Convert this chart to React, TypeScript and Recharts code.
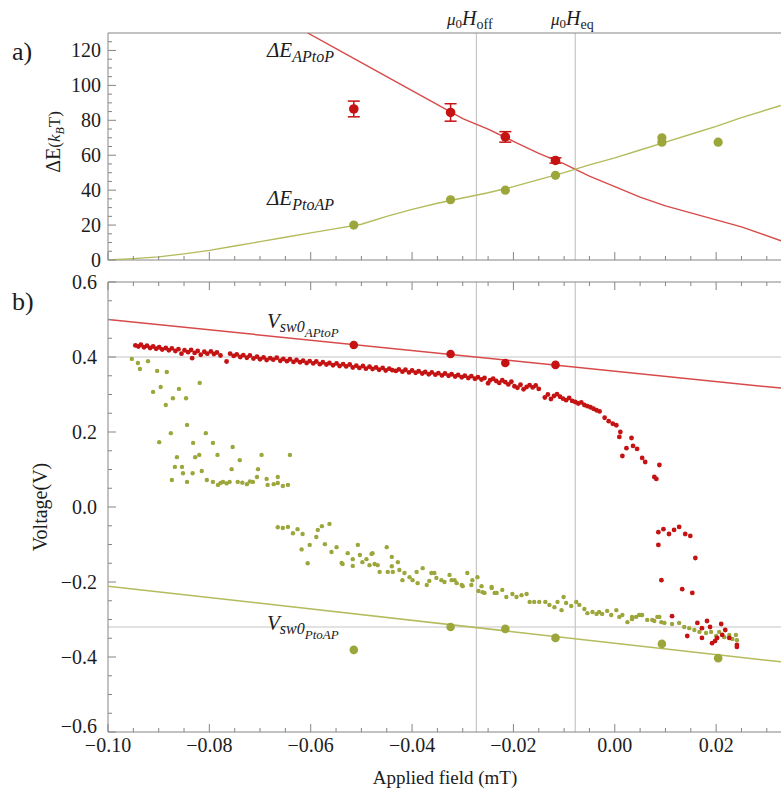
import { ComposedChart, Scatter, XAxis, YAxis, ReferenceLine, ErrorBar } from 'recharts';

const SERIF = "'Liberation Serif', 'DejaVu Serif', serif";
const FRAME = '#858585';
const GRID = '#c6c6c6';
const TEXT = '#1c1c1c';
const RED_DOT = '#c51212';
const RED_LINE = '#d84a4a';
const GREEN_DOT = '#9ca63b';
const GREEN_LINE = '#b3bb5c';

const FIELD_DOMAIN: [number, number] = [-0.1, 0.0328];
const H_OFF = -0.0273;
const H_EQ = -0.0078;

// tick positions (major ones get labels)
const fieldTicks = [
  -0.1, -0.095, -0.09, -0.085, -0.08, -0.075, -0.07, -0.065, -0.06, -0.055, -0.05, -0.045,
  -0.04, -0.035, -0.03, -0.025, -0.02, -0.015, -0.01, -0.005, 0, 0.005, 0.01, 0.015, 0.02, 0.025, 0.03,
];
const fieldMajor = [-0.1, -0.08, -0.06, -0.04, -0.02, 0, 0.02];
const energyTicks = [0, 5, 10, 15, 20, 25, 30, 35, 40, 45, 50, 55, 60, 65, 70, 75, 80, 85, 90, 95, 100, 105, 110, 115, 120, 125];
const energyMajor = [0, 20, 40, 60, 80, 100, 120];
const voltTicks = [
  -0.6, -0.55, -0.5, -0.45, -0.4, -0.35, -0.3, -0.25, -0.2, -0.15, -0.1, -0.05, 0,
  0.05, 0.1, 0.15, 0.2, 0.25, 0.3, 0.35, 0.4, 0.45, 0.5, 0.55, 0.6,
];
const voltMajor = [-0.6, -0.4, -0.2, 0, 0.2, 0.4, 0.6];

// panel a) measured barriers
const barrierField = [-0.0515, -0.0324, -0.0216, -0.0117];
const apToPEnergy = [86.5, 84.5, 70.5, 57];
const apToPErr = [4.5, 5, 3, 1.5];
const ptoApField = [-0.0515, -0.0324, -0.0216, -0.0117, 0.0093, 0.0093, 0.0204];
const ptoApEnergy = [20, 34.5, 40, 48.5, 70, 67.5, 67.5];

// panel a) model curves
const apToPCurveField = [-0.0606, -0.055, -0.05, -0.045, -0.04, -0.035, -0.03, -0.025, -0.02, -0.015, -0.01, -0.005, 0, 0.005, 0.01, 0.015, 0.02, 0.025, 0.0328];
const apToPCurveEnergy = [130, 121, 113, 105, 97, 89, 81, 75, 68, 61, 55, 48, 42, 36, 31, 27, 23, 19, 11];
const ptoApCurveField = [-0.1, -0.095, -0.09, -0.085, -0.08, -0.075, -0.07, -0.065, -0.06, -0.055, -0.05, -0.045, -0.04, -0.035, -0.03, -0.025, -0.02, -0.015, -0.01, -0.005, 0, 0.005, 0.01, 0.015, 0.02, 0.025, 0.0328];
const ptoApCurveEnergy = [0, 0.8, 1.8, 3.5, 5.5, 8, 10.5, 13, 15.5, 18, 20.5, 25, 29, 32.5, 35.5, 38.5, 42, 46, 50, 54.5, 58.5, 63, 67.5, 72, 76.5, 81.5, 88.5];

// panel b) Vsw0 lines and points
const vLineField = [-0.1, 0.0328];
const vApToPLine = [0.5, 0.317];
const vPtoApLine = [-0.211, -0.413];
const vApToPField = [-0.0515, -0.0324, -0.0216, -0.0117];
const vApToP = [0.432, 0.408, 0.384, 0.379];
const vPtoApField = [-0.0515, -0.0324, -0.0216, -0.0117, 0.0093, 0.0204];
const vPtoAp = [-0.381, -0.32, -0.325, -0.349, -0.365, -0.403];

// panel b) measured switching voltages, AP -> P sweep
const apToPSweep: [number, number][] = [
  [-0.0946, 0.431], [-0.094, 0.428], [-0.0935, 0.433], [-0.0929, 0.426], [-0.0923, 0.43], [-0.0917, 0.424],
  [-0.0911, 0.428], [-0.0905, 0.422], [-0.0899, 0.426], [-0.0893, 0.42], [-0.0886, 0.424], [-0.088, 0.418],
  [-0.0874, 0.423], [-0.0867, 0.416], [-0.0861, 0.421], [-0.0855, 0.409], [-0.0849, 0.418], [-0.0842, 0.413],
  [-0.0836, 0.419], [-0.0834, 0.397], [-0.0829, 0.411], [-0.0823, 0.416], [-0.0817, 0.406], [-0.081, 0.414],
  [-0.0804, 0.409], [-0.0797, 0.415], [-0.0791, 0.408], [-0.0785, 0.412], [-0.0778, 0.404], [-0.0766, 0.388],
  [-0.0759, 0.409], [-0.0752, 0.403], [-0.0746, 0.407], [-0.0739, 0.4], [-0.0733, 0.405], [-0.0726, 0.398],
  [-0.072, 0.404], [-0.0713, 0.396], [-0.0706, 0.401], [-0.07, 0.394], [-0.0693, 0.399], [-0.0687, 0.392],
  [-0.068, 0.397], [-0.0674, 0.393], [-0.0667, 0.398], [-0.066, 0.39], [-0.0654, 0.395], [-0.0647, 0.389],
  [-0.0641, 0.394], [-0.0634, 0.387], [-0.0628, 0.392], [-0.0621, 0.386], [-0.0615, 0.39], [-0.0608, 0.384],
  [-0.0602, 0.389], [-0.0595, 0.383], [-0.0589, 0.388], [-0.0582, 0.381], [-0.0576, 0.386], [-0.0569, 0.38],
  [-0.0563, 0.384], [-0.0556, 0.378], [-0.0549, 0.383], [-0.0543, 0.376], [-0.0536, 0.381], [-0.053, 0.375],
  [-0.0523, 0.38], [-0.0517, 0.372], [-0.051, 0.377], [-0.0504, 0.371], [-0.0497, 0.376], [-0.0491, 0.369],
  [-0.0484, 0.374], [-0.0478, 0.368], [-0.0471, 0.372], [-0.0465, 0.366], [-0.0458, 0.371], [-0.0452, 0.364],
  [-0.0445, 0.369], [-0.0439, 0.365], [-0.0432, 0.363], [-0.0426, 0.367], [-0.0419, 0.361], [-0.0413, 0.366],
  [-0.0406, 0.359], [-0.04, 0.364], [-0.0393, 0.358], [-0.0387, 0.362], [-0.038, 0.356], [-0.0374, 0.36],
  [-0.0367, 0.354], [-0.0361, 0.359], [-0.0354, 0.353], [-0.0348, 0.357], [-0.0341, 0.351], [-0.0335, 0.356],
  [-0.0328, 0.35], [-0.0322, 0.354], [-0.0315, 0.348], [-0.0309, 0.352], [-0.0302, 0.346], [-0.0296, 0.35],
  [-0.0289, 0.344], [-0.0283, 0.349], [-0.0276, 0.342], [-0.027, 0.346], [-0.0263, 0.34], [-0.0257, 0.344],
  [-0.025, 0.33], [-0.0246, 0.338], [-0.024, 0.342], [-0.0234, 0.336], [-0.0228, 0.331], [-0.0222, 0.338],
  [-0.0216, 0.333], [-0.021, 0.327], [-0.0204, 0.334], [-0.0198, 0.322], [-0.0192, 0.318], [-0.0186, 0.326],
  [-0.018, 0.314], [-0.0174, 0.32], [-0.0168, 0.325], [-0.0162, 0.319], [-0.0156, 0.324], [-0.015, 0.315],
  [-0.0138, 0.292], [-0.0132, 0.3], [-0.0126, 0.288], [-0.012, 0.296], [-0.0114, 0.301], [-0.0108, 0.294],
  [-0.0102, 0.289], [-0.0096, 0.285], [-0.009, 0.291], [-0.0084, 0.283], [-0.0078, 0.28], [-0.0072, 0.276],
  [-0.0066, 0.279], [-0.006, 0.272], [-0.0054, 0.269], [-0.0048, 0.266], [-0.0042, 0.262], [-0.0036, 0.258],
  [-0.003, 0.255], [-0.002, 0.238], [-0.0012, 0.229], [-0.0004, 0.222], [0.0003, 0.218],
  [0.0009, 0.187], [0.0011, 0.2], [0.0015, 0.136], [0.0023, 0.157], [0.0033, 0.184], [0.0036, 0.163],
  [0.0044, 0.155], [0.0054, 0.131], [0.006, 0.12], [0.0078, 0.08], [0.0082, 0.075], [0.0088, 0.112],
  [0.0086, -0.067], [0.0096, -0.059], [0.0107, -0.072], [0.0117, -0.061], [0.0127, -0.053], [0.0139, -0.072],
  [0.0149, -0.077], [0.0086, -0.101], [0.0159, -0.136], [0.0092, -0.195], [0.0133, -0.219], [0.0153, -0.229],
  [0.0113, -0.291], [0.0163, -0.309], [0.0182, -0.304], [0.021, -0.312], [0.0143, -0.344], [0.0172, -0.323],
  [0.0188, -0.32], [0.0172, -0.349], [0.0192, -0.363], [0.0202, -0.349], [0.0218, -0.328], [0.0226, -0.349],
  [0.0241, -0.368], [0.0198, -0.357], [0.0212, -0.341], [0.0241, -0.373],
];

// panel b) measured switching voltages, P -> AP sweep
const ptoApSweep: [number, number][] = [
  [-0.0953, 0.395], [-0.0941, 0.384], [-0.0937, 0.368], [-0.0921, 0.389], [-0.0903, 0.363], [-0.0884, 0.36],
  [-0.0911, 0.307], [-0.0896, 0.32], [-0.0886, 0.272], [-0.086, 0.315], [-0.0872, 0.29], [-0.0846, 0.29],
  [-0.0819, 0.331], [-0.0899, 0.173], [-0.0876, 0.197], [-0.0844, 0.219], [-0.0832, 0.171], [-0.0807, 0.197],
  [-0.0793, 0.171], [-0.0754, 0.16], [-0.0868, 0.107], [-0.0854, 0.107], [-0.0874, 0.072], [-0.0852, 0.09],
  [-0.0844, 0.067], [-0.0833, 0.09], [-0.0828, 0.133], [-0.082, 0.139], [-0.0864, 0.133], [-0.0815, 0.096],
  [-0.0805, 0.072], [-0.0784, 0.139], [-0.0793, 0.067], [-0.0783, 0.059], [-0.0773, 0.067], [-0.076, 0.067],
  [-0.0756, 0.101], [-0.0744, 0.067], [-0.074, 0.125], [-0.0726, 0.061], [-0.0714, 0.067], [-0.0706, 0.08],
  [-0.0704, 0.101], [-0.0697, 0.139], [-0.0687, 0.075], [-0.0685, 0.059], [-0.0673, 0.061], [-0.0665, 0.08],
  [-0.0655, 0.056], [-0.0645, 0.059], [-0.0641, 0.139], [-0.0665, 0.064], [-0.0778, 0.064], [-0.0766, 0.063],
  [-0.0735, 0.065], [-0.072, 0.068],
  [-0.0665, -0.054], [-0.0655, -0.056], [-0.0645, -0.053], [-0.0635, -0.07], [-0.0626, -0.059], [-0.0618, -0.113],
  [-0.0616, -0.072], [-0.0606, -0.15], [-0.0602, -0.101], [-0.0589, -0.08], [-0.0586, -0.061], [-0.0578, -0.051],
  [-0.0572, -0.099], [-0.0563, -0.045], [-0.0559, -0.12], [-0.0549, -0.107], [-0.0539, -0.149], [-0.0537, -0.152],
  [-0.0527, -0.123], [-0.0517, -0.139], [-0.0517, -0.157], [-0.0507, -0.101], [-0.0503, -0.128], [-0.0498, -0.147],
  [-0.049, -0.139], [-0.0484, -0.155], [-0.048, -0.125], [-0.0478, -0.123], [-0.0474, -0.152], [-0.0468, -0.155],
  [-0.0464, -0.173], [-0.045, -0.107], [-0.0448, -0.173], [-0.044, -0.133], [-0.044, -0.158], [-0.0438, -0.173],
  [-0.0428, -0.147], [-0.0425, -0.168], [-0.0419, -0.195], [-0.0415, -0.176], [-0.0405, -0.187], [-0.0399, -0.195],
  [-0.0391, -0.173], [-0.0389, -0.203], [-0.0379, -0.163], [-0.0371, -0.208], [-0.0366, -0.197], [-0.0362, -0.176],
  [-0.0356, -0.176], [-0.0352, -0.189], [-0.0342, -0.195], [-0.0336, -0.2], [-0.0326, -0.181], [-0.0322, -0.195],
  [-0.0316, -0.195], [-0.0312, -0.203], [-0.0302, -0.208], [-0.03, -0.211], [-0.0291, -0.176], [-0.0283, -0.208],
  [-0.0281, -0.195], [-0.0271, -0.187], [-0.0269, -0.224], [-0.0263, -0.211], [-0.0261, -0.227], [-0.0257, -0.229],
  [-0.0243, -0.216], [-0.0243, -0.213], [-0.0237, -0.229], [-0.0233, -0.229], [-0.0222, -0.221], [-0.0214, -0.24],
  [-0.0202, -0.232], [-0.0194, -0.24], [-0.0184, -0.235], [-0.0174, -0.232], [-0.0168, -0.253], [-0.0159, -0.253],
  [-0.0149, -0.253], [-0.0137, -0.253], [-0.0129, -0.261], [-0.0119, -0.267], [-0.0113, -0.253], [-0.0105, -0.275],
  [-0.0101, -0.24], [-0.0096, -0.256], [-0.0086, -0.264], [-0.0076, -0.253], [-0.007, -0.261], [-0.006, -0.272],
  [-0.0054, -0.283], [-0.0044, -0.28], [-0.0036, -0.285], [-0.0031, -0.28], [-0.0025, -0.285], [-0.0015, -0.277],
  [-0.0007, -0.288], [0.0003, -0.275], [0.0009, -0.293], [0.0015, -0.288], [0.0025, -0.307], [0.0034, -0.299],
  [0.0042, -0.293], [0.0048, -0.288], [0.0054, -0.288], [0.0064, -0.301], [0.0074, -0.301], [0.0084, -0.293],
  [0.0092, -0.307], [0.0098, -0.309], [0.0034, -0.293], [0.0052, -0.288], [0.0078, -0.304], [0.0088, -0.293],
  [0.0113, -0.312], [0.0127, -0.309], [0.0137, -0.32], [0.0147, -0.323], [0.0157, -0.328], [0.0167, -0.333],
  [0.018, -0.336], [0.019, -0.333], [0.02, -0.344], [0.0206, -0.333], [0.0216, -0.347], [0.0226, -0.341],
  [0.0232, -0.352], [0.0239, -0.341], [0.0241, -0.355],
];

const zip = (xs: number[], ys: number[]) => xs.map((x, i) => ({ x, y: ys[i] }));
const fromPairs = (ps: [number, number][]) => ps.map(([x, y]) => ({ x, y }));

const isMajor = (v: number, majors: number[]) => majors.some((m) => Math.abs(m - v) < 1e-9);
const fmt = (v: number, digits: number) => {
  const s = Math.abs(v).toFixed(digits);
  return v < -1e-9 ? '\u2212' + s : s;
};

function xTick(side: 'top' | 'bottom', labels: boolean) {
  return (props: any) => {
    const { x, y, payload } = props;
    const v = payload.value;
    const major = isMajor(v, fieldMajor);
    const len = major ? 8 : 4;
    const dir = side === 'bottom' ? -1 : 1;
    return (
      <g>
        <line x1={x} x2={x} y1={y} y2={y + dir * len} stroke={FRAME} />
        {labels && major && (
          <text x={x} y={y + 20} textAnchor="middle" fontFamily={SERIF} fontSize={20} fill={TEXT}>
            {fmt(v, 2)}
          </text>
        )}
      </g>
    );
  };
}

function yTick(majors: number[], digits: number, gap: number, lowest: number) {
  return (props: any) => {
    const { x, y, payload } = props;
    const v = payload.value;
    const major = isMajor(v, majors);
    // the bottom-most label is lifted a little so it clears the x labels
    const lift = Math.abs(v - lowest) < 1e-9 && lowest < 0 ? 6 : 0;
    return (
      <g>
        <line x1={x} x2={x + (major ? 8 : 4)} y1={y} y2={y} stroke={FRAME} />
        {major && (
          <text x={x - gap} y={y + 7 - lift} textAnchor="end" fontFamily={SERIF} fontSize={20} fill={TEXT}>
            {fmt(v, digits)}
          </text>
        )}
      </g>
    );
  };
}

const dot = (r: number, fill: string) => (p: any) => <circle cx={p.cx} cy={p.cy} r={r} fill={fill} />;
const noDot = () => <g />;

function EnergyPanel() {
  return (
    <ComposedChart width={781} height={270} margin={{ top: 23, right: 0, bottom: 5, left: 58 }}>
      <XAxis xAxisId="frame" orientation="top" type="number" dataKey="x" domain={FIELD_DOMAIN}
        allowDataOverflow height={10} tick={false} tickLine={false} axisLine={{ stroke: FRAME }} />
      <XAxis type="number" dataKey="x" domain={FIELD_DOMAIN} allowDataOverflow ticks={fieldTicks}
        interval={0} height={5} tickSize={0} tickMargin={0} tickLine={false}
        tick={xTick('bottom', false)} axisLine={{ stroke: FRAME }} />
      <YAxis type="number" dataKey="y" domain={[0, 130]} allowDataOverflow ticks={energyTicks}
        interval={0} width={50} tickSize={0} tickMargin={0} tickLine={false}
        tick={yTick(energyMajor, 0, 7, 0)} axisLine={{ stroke: FRAME }} />
      <ReferenceLine x={H_OFF} stroke={GRID} strokeWidth={1.2} />
      <ReferenceLine x={H_EQ} stroke={GRID} strokeWidth={1.2} />
      <Scatter data={zip(apToPCurveField, apToPCurveEnergy)} line={{ stroke: RED_LINE, strokeWidth: 1.4 }}
        shape={noDot} isAnimationActive={false} />
      <Scatter data={zip(ptoApCurveField, ptoApCurveEnergy)} line={{ stroke: GREEN_LINE, strokeWidth: 1.4 }}
        shape={noDot} isAnimationActive={false} />
      <Scatter data={zip(ptoApField, ptoApEnergy)} shape={dot(4.6, GREEN_DOT)} isAnimationActive={false} />
      <Scatter data={barrierField.map((x, i) => ({ x, y: apToPEnergy[i], err: apToPErr[i] }))}
        shape={dot(4.8, RED_DOT)} isAnimationActive={false}>
        <ErrorBar dataKey="err" direction="y" width={6} stroke={RED_DOT} strokeWidth={1.5} />
      </Scatter>
    </ComposedChart>
  );
}

function VoltagePanel() {
  return (
    <ComposedChart width={781} height={532} margin={{ top: 10, right: 0, bottom: 17, left: 58 }}>
      <XAxis xAxisId="frame" orientation="top" type="number" dataKey="x" domain={FIELD_DOMAIN}
        allowDataOverflow ticks={fieldTicks} interval={0} height={10} tickSize={0} tickMargin={0}
        tickLine={false} tick={xTick('top', false)} axisLine={{ stroke: FRAME }} />
      <XAxis type="number" dataKey="x" domain={FIELD_DOMAIN} allowDataOverflow ticks={fieldTicks}
        interval={0} height={45} tickSize={0} tickMargin={0} tickLine={false}
        tick={xTick('bottom', true)} axisLine={{ stroke: FRAME }} />
      <YAxis type="number" dataKey="y" domain={[-0.6, 0.6]} allowDataOverflow ticks={voltTicks}
        interval={0} width={50} tickSize={0} tickMargin={0} tickLine={false}
        tick={yTick(voltMajor, 1, 11, -0.6)} axisLine={{ stroke: FRAME }} />
      <ReferenceLine x={H_OFF} stroke={GRID} strokeWidth={1.2} />
      <ReferenceLine x={H_EQ} stroke={GRID} strokeWidth={1.2} />
      <ReferenceLine y={0.4} stroke={GRID} strokeWidth={1.2} />
      <ReferenceLine y={-0.32} stroke={GRID} strokeWidth={1.2} />
      <Scatter data={fromPairs(ptoApSweep)} shape={dot(2.2, GREEN_DOT)} isAnimationActive={false} />
      <Scatter data={fromPairs(apToPSweep)} shape={dot(2.4, RED_DOT)} isAnimationActive={false} />
      <Scatter data={zip(vLineField, vApToPLine)} line={{ stroke: RED_LINE, strokeWidth: 1.5 }}
        shape={noDot} isAnimationActive={false} />
      <Scatter data={zip(vLineField, vPtoApLine)} line={{ stroke: GREEN_LINE, strokeWidth: 1.5 }}
        shape={noDot} isAnimationActive={false} />
      <Scatter data={zip(vApToPField, vApToP)} shape={dot(4.3, RED_DOT)} isAnimationActive={false} />
      <Scatter data={zip(vPtoApField, vPtoAp)} shape={dot(4.3, GREEN_DOT)} isAnimationActive={false} />
    </ComposedChart>
  );
}

const abs = (left: number, top: number, extra: any = {}) => ({
  position: 'absolute' as const, left, top, lineHeight: 1, whiteSpace: 'nowrap' as const,
  fontFamily: SERIF, color: TEXT, ...extra,
});
const sub = (size: number, drop: number, italic = true) => ({
  fontSize: size, position: 'relative' as const, top: drop, fontStyle: italic ? 'italic' : 'normal',
});

export default function App() {
  return (
    <div style={{ position: 'absolute', left: 0, top: 0, width: 781, height: 794, overflow: 'hidden', background: '#fff', fontFamily: SERIF }}>
      <div style={{ position: 'absolute', left: 0, top: 0 }}><EnergyPanel /></div>
      <div style={{ position: 'absolute', left: 0, top: 262 }}><VoltagePanel /></div>

      <div style={abs(12, 39, { fontSize: 26 })}>a)</div>
      <div style={abs(12, 289, { fontSize: 26 })}>b)</div>

      <div style={abs(53, 142, { fontSize: 20, transform: 'translate(-50%, -50%) rotate(-90deg)' })}>
        ΔE<span style={{ fontSize: 17 }}>(</span><span style={{ fontStyle: 'italic', fontSize: 17 }}>k</span>
        <span style={sub(12, 4)}>B</span><span style={{ fontSize: 17 }}>T)</span>
      </div>
      <div style={abs(40, 507, { fontSize: 20, transform: 'translate(-50%, -50%) rotate(-90deg)' })}>Voltage(V)</div>
      <div style={abs(445, 777, { fontSize: 19, transform: 'translate(-50%, -50%)' })}>Applied field (mT)</div>

      <div style={abs(267, 40, { fontSize: 21, fontStyle: 'italic' })}>
        ΔE<span style={sub(16, 5)}>APtoP</span>
      </div>
      <div style={abs(267, 188, { fontSize: 21, fontStyle: 'italic' })}>
        ΔE<span style={sub(16, 5)}>PtoAP</span>
      </div>
      <div style={abs(447, 8, { fontSize: 20 })}>
        <span style={{ fontStyle: 'italic', fontSize: 17 }}>μ</span><span style={sub(13, 3, false)}>0</span>
        <span style={{ fontStyle: 'italic' }}>H</span><span style={sub(14, 4, false)}>off</span>
      </div>
      <div style={abs(551, 8, { fontSize: 20 })}>
        <span style={{ fontStyle: 'italic', fontSize: 17 }}>μ</span><span style={sub(13, 3, false)}>0</span>
        <span style={{ fontStyle: 'italic' }}>H</span><span style={sub(14, 4, false)}>eq</span>
      </div>
      <div style={abs(267, 311, { fontSize: 21, fontStyle: 'italic' })}>
        V<span style={sub(16, 4)}>sw0</span><span style={sub(13, 9)}>APtoP</span>
      </div>
      <div style={abs(267, 613, { fontSize: 21, fontStyle: 'italic' })}>
        V<span style={sub(16, 4)}>sw0</span><span style={sub(13, 9)}>PtoAP</span>
      </div>
    </div>
  );
}
